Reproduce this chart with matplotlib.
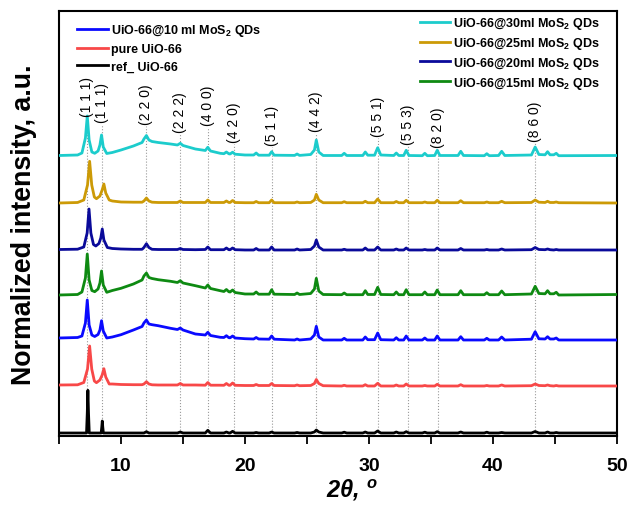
import numpy as np
import matplotlib
matplotlib.use('Agg')
import matplotlib.pyplot as plt
from matplotlib.ticker import MultipleLocator, NullLocator

plt.rcParams['font.family'] = ['Liberation Sans', 'DejaVu Sans']
plt.rcParams['mathtext.fontset'] = 'custom'
plt.rcParams['mathtext.rm'] = 'Liberation Sans:bold'
plt.rcParams['mathtext.it'] = 'Liberation Sans:italic:bold'
plt.rcParams['mathtext.bf'] = 'Liberation Sans:bold'

'''data read off the picture (2theta in degrees, intensity in a.u.)'''
# low angle part, differs per group of patterns
x_low_a = [5.0, 6.5, 6.85, 7.13, 7.28, 7.43, 7.65, 7.88, 8.15, 8.3, 8.43, 8.57, 8.85]
x_low_b = [5.0, 6.5, 7.0, 7.3, 7.47, 7.64, 7.85, 8.02, 8.3, 8.48, 8.62, 8.77, 9.05]
x_low_navy = [5.0, 6.5, 7.0, 7.27, 7.42, 7.57, 7.78, 7.97, 8.22, 8.37, 8.49, 8.62, 8.9]
x_low_ref = [5.0, 7.22, 7.28, 7.33, 7.38, 7.44, 8.4, 8.45, 8.49, 8.53, 8.58, 9.0]

# high angle part, shared by all patterns
x_high = [9.3, 10.0, 11.0, 11.7, 11.85, 12.05, 12.25, 12.5, 13.0, 14.0,
          14.55, 14.78, 15.0, 16.0, 16.8, 17.0, 17.22, 18.0, 18.3, 18.5,
          18.7, 18.8, 19.0, 19.2, 20.0, 20.7, 20.9, 21.1, 21.95, 22.15,
          22.35, 24.0, 24.2, 24.4, 25.3, 25.6, 25.75, 25.95, 26.3, 27.8,
          28.0, 28.2, 29.5, 29.7, 29.9, 30.45, 30.7, 30.95, 32.0, 32.2,
          32.4, 32.8, 33.0, 33.22, 34.3, 34.5, 34.7, 35.3, 35.5, 35.72,
          37.18, 37.4, 37.62, 39.3, 39.5, 39.7, 40.45, 40.7, 40.95, 43.1,
          43.4, 43.7, 44.2, 44.4, 44.6, 44.9, 45.1, 45.3, 50.0]

y_30ml = [0.5, 1.0, 3.0, 18, 40, 16, 4, 2.7, 5, 11, 21, 9, 2.5,
          3.5, 6, 10, 13.5, 17, 20.5, 16, 14.5, 13.5, 12,
          11, 12.7, 10.5, 7, 5.5, 8.7, 5, 2.7, 2.3, 4,
          2.2, 2.0, 3.8, 1.8, 1, 1, 3, 0.8, 0.8, 4.3,
          0.8, 0.6, 2, 0.6, 1.5, 6, 16, 4, 0.5, 0.5,
          2.7, 0.5, 0.5, 4, 0.8, 0.8, 8.3, 1, 0.5, 3,
          0.5, 0.5, 5.7, 0.5, 0.3, 2.7, 0.3, 0.5, 5.7, 0.5,
          0.5, 4.7, 0.5, 0.3, 2.3, 0.3, 0.5, 4.7, 0.5, 1,
          9, 1.5, 1.2, 4.3, 1.2, 1.2, 2.7, 0.3, 0.5]

y_25ml = [0, 0.5, 3, 18, 41.7, 18, 6, 4.3, 7, 13, 19, 10, 3,
          2, 1, 0.8, 0.8, 2, 5, 2, 0.8, 0.5, 0.5,
          0.5, 2, 0.5, 0.5, 0.5, 3, 0.5, 0.5, 0.5, 2,
          0.5, 0.5, 2.5, 0.5, 0.3, 0.3, 1.5, 0.3, 0.3, 3,
          0.3, 0.3, 1, 0.3, 0.5, 3, 8.7, 3, 0.3, 0.3,
          1.3, 0.3, 0.3, 1.7, 0.3, 0.3, 4, 0.3, 0.3, 1.5,
          0.3, 0.3, 2.7, 0.3, 0.3, 1, 0.3, 0.3, 2.7, 0.3,
          0.3, 2.3, 0.3, 0.3, 1, 0.3, 0.3, 1.7, 0.3, 0.5,
          3, 0.8, 0.5, 1.7, 0.5, 0.5, 1, 0.3, 0]

y_20ml = [0.5, 0.8, 3, 17, 41, 17, 5.5, 4, 6.5, 12, 21, 10, 2.5,
          1.5, 1, 0.7, 0.7, 2.5, 6.3, 2.5, 0.7, 0.5, 0.5,
          0.5, 1.5, 0.5, 0.3, 0.5, 3, 0.3, 0.3, 0.3, 2,
          0.3, 0.3, 2, 0.3, 0, 0, 1.5, 0, 0, 3,
          0, 0, 1, 0, 0.5, 4, 10, 3, 0, 0,
          0.7, 0, 0, 2, 0, 0, 3, 0, 0, 1,
          0, 0, 2, 0, 0, 0.5, 0, 0, 2, 0,
          0, 1.5, 0, 0, 0.5, 0, 0, 1, 0, 0.3,
          2.5, 0.5, 0.3, 1, 0.3, 0, 0.5, 0, 0]

y_15ml = [0, 0.5, 3, 17, 41, 15, 4.5, 3.3, 6, 12, 24, 10, 2.7,
          4.5, 6.7, 11, 15, 19, 22, 17.5, 16.5, 15.3, 13.7,
          12.5, 14.3, 12, 9.3, 7, 10, 6.5, 4.3, 3.5, 5.5,
          3.2, 3.0, 5, 2.5, 1, 1, 3, 0.8, 0.8, 5.3,
          0.8, 0.5, 2, 0.5, 1.5, 6, 16.7, 4, 0.5, 0.3,
          2, 0.3, 0.3, 4.3, 0.5, 0.5, 7.7, 0.5, 0.3, 3,
          0.3, 0.3, 5.3, 0.3, 0.3, 3, 0.3, 0.3, 5, 0.3,
          0.3, 4.3, 0.3, 0.3, 2.3, 0.3, 0.3, 4, 0.3, 1,
          8.7, 1.5, 1.2, 4.3, 1.2, 1.2, 2.7, 0, 0.5]

y_10ml = [2, 2.5, 4, 17, 40, 15, 5, 3.5, 5.5, 10, 19.3, 9, 2.0,
          3, 5.3, 10, 13.5, 17, 20, 16, 15.3, 14.3, 11.7,
          10.5, 12, 10, 6, 5, 7.7, 4.5, 2.7, 2.5, 4.3,
          2.3, 2.2, 4, 2, 1.3, 1, 2.5, 1, 0.8, 4,
          0.8, 0, 1, 0, 1, 5, 13.7, 3, 0, 0,
          1.7, 0, 0, 3, 0.3, 0.3, 7, 0.3, 0, 2.3,
          0, 0, 4, 0, 0, 2, 0, 0, 4, 0,
          0, 3.3, 0, 0, 1.7, 0, 0, 3, 0, 0.8,
          8.3, 1.2, 1, 3.3, 1, 1, 2, 0, 0]

y_pure = [1, 1.2, 3.5, 17, 40, 17, 5, 3.3, 6, 11, 17.3, 9, 2,
          2, 1.5, 1.3, 1.3, 2, 4.3, 2, 1.2, 1, 1,
          1, 2.5, 1, 1, 0.8, 3.5, 0.8, 0.8, 0.7, 2.5,
          0.7, 0.7, 3, 0.7, 0.5, 0.5, 1.5, 0.5, 0.5, 2.5,
          0.5, 0.3, 1, 0.3, 0.5, 2.5, 6.5, 2.5, 0.3, 0,
          0.7, 0, 0, 1.3, 0, 0, 2.7, 0, 0, 1,
          0, 0, 2, 0, 0, 0.5, 0, 0, 1.7, 0,
          0, 1.3, 0, 0, 0.5, 0, 0, 1, 0, 0.3,
          2, 0.5, 0.3, 1, 0.3, 0, 0.5, 0, 0]

y_ref = [0, 0, 20, 42.7, 20, 0, 0, 6, 12, 6, 0, 0,
         0, 0, 0, 0, 0, 1.3, 0, 0, 0, 0,
         0, 1, 0, 0, 0, 2.7, 0, 0, 0, 1,
         0, 0, 1.7, 0, 0, 0, 0.5, 0, 0, 1,
         0, 0, 0.5, 0, 0, 1, 3, 1, 0, 0,
         0.8, 0, 0, 1, 0, 0, 2, 0, 0, 1,
         0, 0, 1.3, 0, 0, 0.8, 0, 0, 1.3, 0,
         0, 1, 0, 0, 0.8, 0, 0, 0.5, 0, 0,
         1.5, 0, 0, 1, 0, 0, 0.5, 0, 0]

labels = ['UiO-66@30ml MoS$_2$ QDs', 'UiO-66@25ml MoS$_2$ QDs',
          'UiO-66@20ml MoS$_2$ QDs', 'UiO-66@15ml MoS$_2$ QDs',
          'UiO-66@10 ml MoS$_2$ QDs', 'pure UiO-66', 'ref_ UiO-66']

hkl_pos = [7.28, 8.43, 12.0, 14.75, 17.05, 19.1, 22.15, 25.75, 30.75, 33.15, 35.6, 43.4]
hkl_text = ['(1 1 1)', '(1 1 1)', '(2 2 0)', '(2 2 2)', '(4 0 0)', '(4 2 0)',
            '(5 1 1)', '(4 4 2)', '(5 5 1)', '(5 5 3)', '(8 2 0)', '(8 6 0)']

'''layout / styles'''
series = [
    (x_low_a, y_30ml, 280, '#1ccccc'),
    (x_low_b, y_25ml, 233, '#cc9a06'),
    (x_low_navy, y_20ml, 186, '#0a0a9a'),
    (x_low_a, y_15ml, 141, '#0e8a12'),
    (x_low_a, y_10ml, 96, '#0a0aff'),
    (x_low_b, y_pure, 50, '#f84848'),
    (x_low_ref, y_ref, 3, 'black'),
]
hkl_bottom = [320, 314, 312, 304, 311, 294, 291, 305, 300, 292, 289, 295]

fig = plt.figure(figsize=(6.33, 5.06), dpi=100)
ax = fig.add_axes([59 / 633, 69 / 506, 558 / 633, 425 / 506])

for pos, yb in zip(hkl_pos, hkl_bottom):
    ax.plot([pos, pos], [0, yb - 2], ls=':', color='#9a9a9a', lw=0.8, zorder=1)

lines = []
for (xl, yv, off, col), lab in zip(series, labels):
    x = np.concatenate([xl, x_high])
    y = np.asarray(yv, dtype=float) + off
    ln, = ax.plot(x, y, color=col, lw=2.0, label=lab, zorder=3)
    lines.append(ln)

for pos, txt, yb in zip(hkl_pos, hkl_text, hkl_bottom):
    ax.text(pos, yb, txt, rotation=90, ha='center', va='bottom', fontsize=10)

ax.set_xlim(5, 50)
ax.set_ylim(0, 425)
ax.xaxis.set_major_locator(MultipleLocator(10))
ax.xaxis.set_minor_locator(MultipleLocator(5))
ax.yaxis.set_major_locator(NullLocator())
ax.tick_params(axis='x', which='both', direction='out', length=6, width=1.3,
               labelsize=14, pad=9)
for lb in ax.get_xticklabels():
    lb.set_fontweight('bold')
for sp in ax.spines.values():
    sp.set_linewidth(1.5)

ax.set_xlabel(r'2$\theta$, $^o$', fontsize=17, fontweight='bold', fontstyle='italic', labelpad=0)
ax.xaxis.set_label_coords(0.525, -0.095)
ax.set_ylabel('Normalized intensity, a.u.', fontsize=19.3, fontweight='bold', labelpad=16)

leg1 = ax.legend(handles=lines[4:], loc='upper left', bbox_to_anchor=(0.032, 0.973),
                 frameon=False, borderpad=0, borderaxespad=0, handlelength=2.5,
                 handletextpad=0.2, labelspacing=0.4, prop={'weight': 'bold', 'size': 9})
ax.add_artist(leg1)
ax.legend(handles=lines[:4], loc='upper left', bbox_to_anchor=(0.647, 0.99),
          frameon=False, borderpad=0, borderaxespad=0, handlelength=2.4,
          handletextpad=0.2, labelspacing=0.3, prop={'weight': 'bold', 'size': 9})

fig.savefig('out.png', dpi=100)
